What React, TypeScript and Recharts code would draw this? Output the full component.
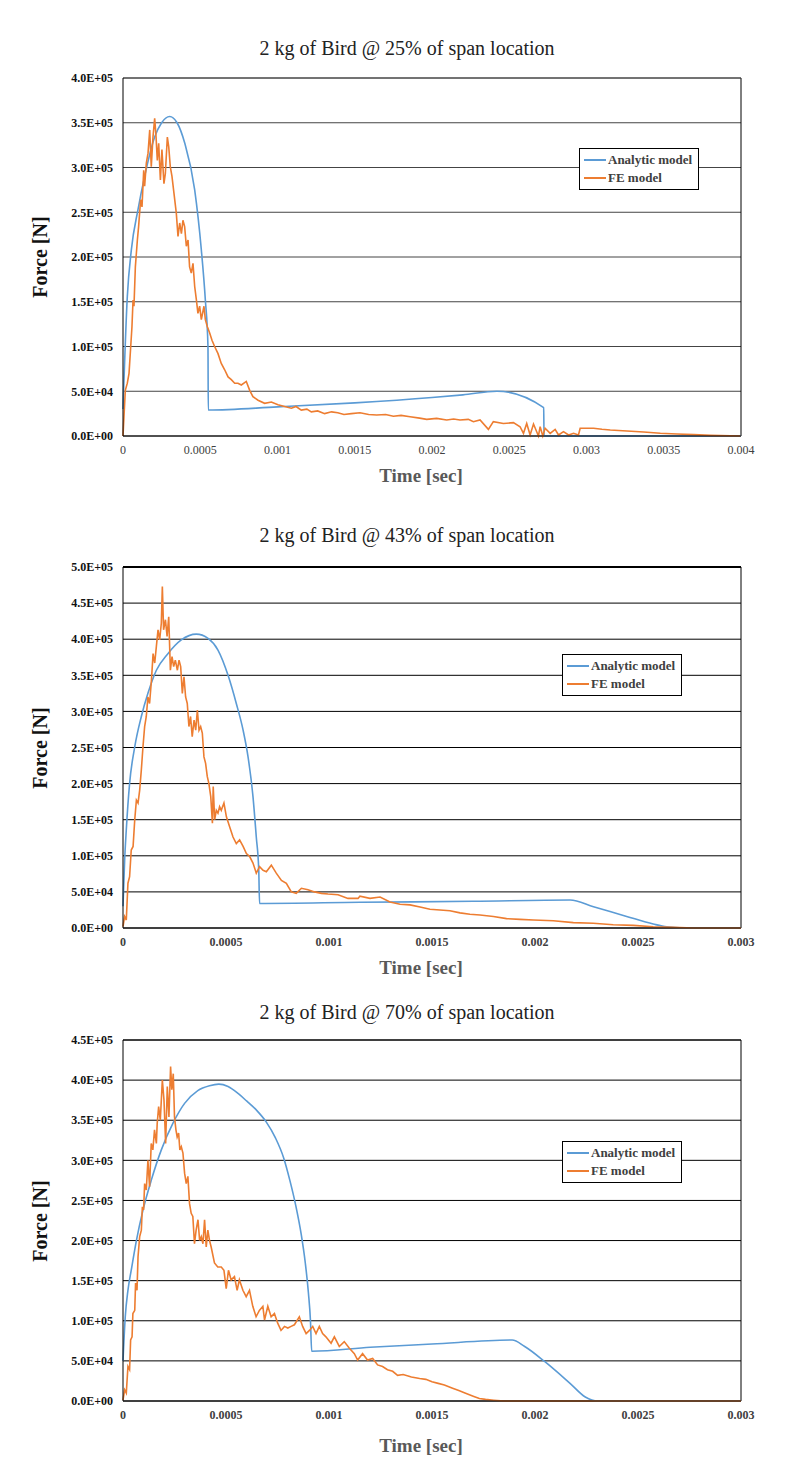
import React from 'react';
import { LineChart, Line, XAxis, YAxis, CartesianGrid, Legend, ReferenceLine } from 'recharts';

// [time in ms, force in 1e5 N]
type Pt = [number, number];

const an25: Pt[] = [
  [0, 0.3], [0.028, 1.56], [0.054, 2.08], [0.097, 2.53], [0.14, 2.9], [0.205, 3.34], [0.25, 3.5],
  [0.302, 3.57], [0.35, 3.5], [0.4, 3.27], [0.464, 2.75], [0.507, 2.08], [0.533, 1.52], [0.55, 1.0],
  [0.552, 0.29], [1.0, 0.325], [1.5, 0.37], [2.0, 0.43], [2.2, 0.46], [2.42, 0.5], [2.723, 0.316],
  [2.725, 0], [4.0, 0],
];

const fe25: Pt[] = [
  [0, 0], [0.015, 0.51], [0.028, 0.59], [0.039, 0.7], [0.05, 1.0], [0.058, 1.22], [0.065, 1.52],
  [0.071, 1.45], [0.08, 1.89], [0.093, 2.19], [0.101, 2.34], [0.114, 2.64], [0.123, 2.56],
  [0.134, 2.97], [0.14, 2.79], [0.151, 3.05], [0.162, 3.16], [0.173, 3.42], [0.183, 3.01],
  [0.194, 3.34], [0.205, 3.55], [0.214, 3.34], [0.222, 3.08], [0.231, 3.27], [0.242, 2.86],
  [0.252, 3.2], [0.265, 2.82], [0.274, 2.93], [0.287, 3.34], [0.296, 3.23], [0.306, 3.01],
  [0.317, 2.9], [0.33, 2.71], [0.345, 2.49], [0.356, 2.23], [0.367, 2.38], [0.378, 2.26],
  [0.388, 2.41], [0.399, 2.34], [0.41, 2.12], [0.421, 2.19], [0.431, 1.89], [0.442, 1.82],
  [0.453, 1.93], [0.464, 1.67], [0.475, 1.52], [0.485, 1.37], [0.496, 1.45], [0.507, 1.3],
  [0.524, 1.45], [0.533, 1.3], [0.546, 1.22], [0.561, 1.15], [0.576, 1.07], [0.593, 1.0],
  [0.615, 0.92], [0.636, 0.81], [0.658, 0.74], [0.68, 0.66], [0.701, 0.63], [0.723, 0.59],
  [0.744, 0.59], [0.766, 0.57], [0.798, 0.61], [0.82, 0.51], [0.841, 0.44], [0.874, 0.4],
  [0.917, 0.365], [0.96, 0.38], [1.003, 0.35], [1.046, 0.33], [1.09, 0.31], [1.12, 0.33],
  [1.154, 0.29], [1.19, 0.3], [1.219, 0.27], [1.26, 0.28], [1.305, 0.25], [1.35, 0.27],
  [1.39, 0.26], [1.43, 0.24], [1.478, 0.25], [1.534, 0.26], [1.59, 0.24], [1.642, 0.235],
  [1.7, 0.24], [1.75, 0.22], [1.8, 0.23], [1.858, 0.216], [1.92, 0.2], [1.966, 0.186],
  [2.03, 0.197], [2.095, 0.179], [2.14, 0.19], [2.181, 0.179], [2.235, 0.186], [2.268, 0.16],
  [2.311, 0.179], [2.365, 0.074], [2.397, 0.16], [2.462, 0.14], [2.527, 0.149], [2.57, 0.104],
  [2.592, 0.03], [2.613, 0.14], [2.635, 0.011], [2.657, 0.134], [2.689, 0], [2.7, 0.104],
  [2.717, 0], [2.732, 0.086], [2.765, 0.03], [2.797, 0.074], [2.819, 0.011], [2.851, 0.048],
  [2.884, 0.011], [2.916, 0.03], [2.948, 0.011], [2.959, 0.086], [3.046, 0.086], [3.1, 0.075],
  [3.154, 0.067], [3.262, 0.056], [3.37, 0.045], [3.478, 0.03], [3.586, 0.022], [3.694, 0.015],
  [3.802, 0.007], [3.996, 0],
];

const an43: Pt[] = [
  [0, 0.3], [0.008, 0.94], [0.016, 1.36], [0.032, 2.0], [0.057, 2.51], [0.089, 2.93], [0.121, 3.25],
  [0.162, 3.57], [0.218, 3.8], [0.283, 3.99], [0.356, 4.07], [0.413, 4.01], [0.461, 3.85],
  [0.51, 3.5], [0.55, 3.11], [0.583, 2.74], [0.607, 2.37], [0.631, 1.82], [0.647, 1.26],
  [0.659, 0.8], [0.663, 0.34], [1.15, 0.356], [1.7, 0.37], [2.17, 0.388], [2.284, 0.295],
  [2.445, 0.16], [2.574, 0.055], [2.64, 0.015], [2.72, 0], [3.0, 0],
];

const fe43: Pt[] = [
  [0, 0.02], [0.008, 0.16], [0.016, 0.11], [0.024, 0.62], [0.032, 0.71], [0.04, 1.08], [0.049, 1.13],
  [0.057, 1.5], [0.065, 1.77], [0.073, 1.73], [0.081, 1.91], [0.089, 2.19], [0.097, 2.51],
  [0.105, 2.79], [0.113, 2.93], [0.121, 3.2], [0.129, 3.11], [0.138, 3.43], [0.146, 3.8],
  [0.154, 3.67], [0.162, 3.9], [0.17, 4.13], [0.178, 3.99], [0.186, 4.22], [0.191, 4.73],
  [0.197, 4.13], [0.206, 4.27], [0.214, 4.04], [0.222, 4.31], [0.23, 3.57], [0.238, 3.76],
  [0.246, 3.62], [0.254, 3.71], [0.264, 3.57], [0.272, 3.71], [0.28, 3.62], [0.288, 3.25],
  [0.296, 3.48], [0.304, 3.2], [0.312, 3.11], [0.32, 2.79], [0.328, 2.93], [0.336, 2.65],
  [0.345, 2.88], [0.353, 2.74], [0.361, 3.02], [0.369, 2.74], [0.377, 2.79], [0.385, 2.7],
  [0.393, 2.37], [0.401, 2.28], [0.409, 2.1], [0.417, 2.0], [0.426, 1.82], [0.434, 1.45],
  [0.438, 1.96], [0.445, 1.5], [0.453, 1.63], [0.461, 1.59], [0.469, 1.68], [0.477, 1.63],
  [0.49, 1.73], [0.502, 1.54], [0.518, 1.4], [0.534, 1.26], [0.55, 1.17], [0.566, 1.22],
  [0.583, 1.13], [0.599, 1.03], [0.615, 0.99], [0.631, 0.9], [0.647, 0.76], [0.663, 0.85],
  [0.68, 0.8], [0.696, 0.78], [0.72, 0.87], [0.744, 0.76], [0.769, 0.66], [0.793, 0.62],
  [0.817, 0.5], [0.841, 0.48], [0.866, 0.55], [0.898, 0.53], [0.93, 0.5], [0.963, 0.48],
  [0.995, 0.47], [1.044, 0.46], [1.092, 0.41], [1.141, 0.41], [1.15, 0.44], [1.199, 0.41],
  [1.248, 0.43], [1.296, 0.36], [1.345, 0.33], [1.393, 0.32], [1.442, 0.29], [1.49, 0.26],
  [1.539, 0.25], [1.587, 0.24], [1.636, 0.21], [1.684, 0.19], [1.733, 0.18], [1.798, 0.16],
  [1.862, 0.13], [1.927, 0.12], [1.992, 0.11], [2.089, 0.1], [2.186, 0.074], [2.283, 0.065],
  [2.38, 0.046], [2.477, 0.037], [2.574, 0.018], [2.671, 0.009], [2.768, 0], [3.0, 0],
];

const an70: Pt[] = [
  [0, 0.5], [0.011, 1.05], [0.024, 1.38], [0.04, 1.63], [0.065, 2.0], [0.097, 2.38], [0.137, 2.75],
  [0.186, 3.13], [0.242, 3.46], [0.299, 3.71], [0.363, 3.87], [0.42, 3.93], [0.465, 3.95],
  [0.51, 3.92], [0.56, 3.83], [0.6, 3.74], [0.65, 3.62], [0.695, 3.48], [0.74, 3.28], [0.78, 3.03],
  [0.81, 2.75], [0.84, 2.42], [0.865, 2.08], [0.885, 1.72], [0.9, 1.35], [0.91, 1.0],
  [0.916, 0.62], [1.2, 0.67], [1.5, 0.71], [1.889, 0.76], [1.95, 0.68], [2.048, 0.49],
  [2.17, 0.22], [2.244, 0.05], [2.305, 0], [3.0, 0],
];

const fe70: Pt[] = [
  [0, 0.01], [0.008, 0.14], [0.016, 0.1], [0.024, 0.43], [0.032, 0.39], [0.037, 0.76], [0.044, 0.8],
  [0.048, 1.09], [0.057, 1.13], [0.061, 1.47], [0.068, 1.38], [0.073, 1.8], [0.081, 2.05],
  [0.089, 2.13], [0.094, 2.42], [0.1, 2.38], [0.105, 2.71], [0.113, 2.63], [0.121, 3.0],
  [0.129, 2.67], [0.137, 3.21], [0.145, 3.13], [0.153, 3.38], [0.162, 3.21], [0.166, 3.46],
  [0.173, 3.67], [0.181, 3.5], [0.191, 4.0], [0.199, 3.75], [0.207, 3.21], [0.215, 3.92],
  [0.223, 3.54], [0.231, 4.17], [0.237, 3.88], [0.244, 4.08], [0.25, 3.54], [0.257, 3.38],
  [0.263, 3.29], [0.27, 3.34], [0.276, 3.13], [0.283, 3.17], [0.291, 3.09], [0.299, 2.84],
  [0.307, 2.71], [0.315, 2.8], [0.323, 2.46], [0.331, 2.34], [0.339, 2.3], [0.347, 1.96],
  [0.355, 2.13], [0.364, 2.26], [0.372, 2.0], [0.38, 2.05], [0.388, 1.96], [0.396, 2.26],
  [0.404, 1.92], [0.412, 2.13], [0.42, 2.0], [0.428, 1.92], [0.444, 1.72], [0.46, 1.67],
  [0.477, 1.67], [0.49, 1.63], [0.501, 1.4], [0.512, 1.63], [0.525, 1.51], [0.541, 1.55],
  [0.554, 1.38], [0.565, 1.51], [0.582, 1.38], [0.598, 1.3], [0.614, 1.38], [0.63, 1.18],
  [0.646, 1.05], [0.662, 1.13], [0.679, 1.18], [0.687, 1.01], [0.703, 1.18], [0.719, 1.05],
  [0.735, 1.09], [0.751, 0.97], [0.767, 0.88], [0.784, 0.93], [0.8, 0.91], [0.816, 0.93],
  [0.832, 0.95], [0.856, 1.05], [0.872, 0.93], [0.889, 0.84], [0.905, 0.88], [0.921, 0.93],
  [0.937, 0.84], [0.953, 0.93], [0.969, 0.84], [0.985, 0.8], [1.01, 0.72], [1.026, 0.8],
  [1.05, 0.68], [1.074, 0.74], [1.098, 0.66], [1.123, 0.59], [1.139, 0.51], [1.163, 0.59],
  [1.187, 0.51], [1.212, 0.53], [1.236, 0.45], [1.26, 0.43], [1.284, 0.39], [1.309, 0.37],
  [1.333, 0.32], [1.36, 0.33], [1.4, 0.3], [1.44, 0.28], [1.47, 0.27], [1.5, 0.24], [1.53, 0.22],
  [1.56, 0.2], [1.6, 0.16], [1.63, 0.13], [1.66, 0.1], [1.7, 0.06], [1.73, 0.03], [1.76, 0.02],
  [1.8, 0.01], [1.85, 0], [3.0, 0],
];

const xTicks4 = [0, 0.0005, 0.001, 0.0015, 0.002, 0.0025, 0.003, 0.0035, 0.004];
const xTicks3 = [0, 0.0005, 0.001, 0.0015, 0.002, 0.0025, 0.003];
const yTicks40 = [0, 50000, 100000, 150000, 200000, 250000, 300000, 350000, 400000];
const yTicks50 = [0, 50000, 100000, 150000, 200000, 250000, 300000, 350000, 400000, 450000, 500000];
const yTicks45 = [0, 50000, 100000, 150000, 200000, 250000, 300000, 350000, 400000, 450000];

const BLUE = '#5B9BD5';
const ORANGE = '#ED7D31';
const SERIF = '"Liberation Serif", "Times New Roman", serif';
const X_AXIS_H = 30;

const toRows = (pts: Pt[]) => pts.map(([t, f]) => ({ t: t / 1000, f: f * 1e5 }));

function sci(v: number) {
  if (v === 0) return '0.0E+00';
  const e = Math.floor(Math.log10(v) + 1e-9);
  const m = v / Math.pow(10, e);
  return `${m.toFixed(1)}E+${String(e).padStart(2, '0')}`;
}

const LegendBox = (props: any) => {
  const payload = props.payload || [];
  return (
    <div
      style={{
        border: '1px solid #000',
        background: '#fff',
        width: 120,
        height: 42,
        boxSizing: 'border-box',
        padding: '2px 0 0 4px',
        fontFamily: SERIF,
        fontWeight: 'bold',
        fontSize: 13,
        color: '#404040',
      }}
    >
      {payload.map((p: any) => (
        <div key={p.value} style={{ display: 'flex', alignItems: 'center', height: 18 }}>
          <span style={{ width: 22, height: 0, borderTop: `2px solid ${p.color}`, marginRight: 2 }} />
          {p.value}
        </div>
      ))}
    </div>
  );
};

interface PanelProps {
  top: number;
  height: number;
  plotTop: number;
  plotBottom: number;
  title: string;
  titleY: number;
  xLabelY: number;
  an: Pt[];
  fe: Pt[];
  xMax: number;
  xTicks: number[];
  yMax: number;
  yTicks: number[];
  legendX: number;
  legendY: number;
  boldX: boolean;
  gridColor: string;
  topWidth: number;
}

function Panel(p: PanelProps) {
  const mid = (p.plotTop + p.plotBottom) / 2;
  return (
    <div style={{ position: 'absolute', left: 0, top: p.top, width: 794, height: p.height }}>
      <div
        style={{
          position: 'absolute', left: 0, width: 814, top: p.titleY - p.top - 12, height: 24,
          lineHeight: '24px', textAlign: 'center', fontFamily: SERIF, fontSize: 20, color: '#222',
        }}
      >
        {p.title}
      </div>
      <div
        style={{
          position: 'absolute', left: 40, top: mid - p.top, transform: 'translate(-50%, -50%) rotate(-90deg)',
          whiteSpace: 'nowrap', fontFamily: SERIF, fontWeight: 'bold', fontSize: 20, color: '#111',
        }}
      >
        Force [N]
      </div>
      <div
        style={{
          position: 'absolute', left: 421, top: p.xLabelY - p.top, transform: 'translate(-50%, -50%)',
          whiteSpace: 'nowrap', fontFamily: SERIF, fontWeight: 'bold', fontSize: 19, color: '#595959',
        }}
      >
        Time [sec]
      </div>
      <LineChart
        width={794}
        height={p.height}
        margin={{
          top: p.plotTop - p.top,
          right: 53,
          bottom: p.top + p.height - p.plotBottom - X_AXIS_H,
          left: 43,
        }}
      >
        <CartesianGrid vertical={false} stroke={p.gridColor} />
        <XAxis
          dataKey="t"
          type="number"
          height={X_AXIS_H}
          domain={[0, p.xMax]}
          ticks={p.xTicks}
          tickFormatter={(v: number) => String(v)}
          tickLine={false}
          tickMargin={3}
          axisLine={{ stroke: '#000' }}
          tick={{ fontFamily: SERIF, fontSize: 12, fontWeight: p.boldX ? 'bold' : 'normal', fill: '#404040' }}
        />
        <YAxis
          type="number"
          width={80}
          domain={[0, p.yMax]}
          ticks={p.yTicks}
          tickFormatter={sci}
          tickLine={false}
          tickMargin={4}
          axisLine={{ stroke: '#000' }}
          tick={{ fontFamily: SERIF, fontSize: 12, fontWeight: 'bold', fill: '#111' }}
        />
        <ReferenceLine x={p.xMax} stroke="#000" />
        <ReferenceLine y={p.yMax} stroke={p.gridColor} strokeWidth={p.topWidth} />
        <Line
          data={toRows(p.an)}
          dataKey="f"
          name="Analytic model"
          type="monotone"
          stroke={BLUE}
          strokeWidth={1.6}
          dot={false}
          isAnimationActive={false}
        />
        <Line
          data={toRows(p.fe)}
          dataKey="f"
          name="FE model"
          stroke={ORANGE}
          strokeWidth={1.6}
          dot={false}
          isAnimationActive={false}
        />
        <Legend
          layout="horizontal"
          verticalAlign="middle"
          align="center"
          content={<LegendBox />}
          wrapperStyle={{ left: p.legendX, top: p.legendY - p.top, width: 120, height: 42 }}
        />
      </LineChart>
    </div>
  );
}

export default function App() {
  return (
    <div style={{ position: 'absolute', left: 0, top: 0, width: 794, height: 1466, background: '#fff' }}>
      <Panel
        top={30} height={470} plotTop={78} plotBottom={436}
        title="2 kg of Bird @ 25% of span location" titleY={48} xLabelY={476}
        an={an25} fe={fe25} xMax={0.004} xTicks={xTicks4} yMax={400000} yTicks={yTicks40}
        legendX={579} legendY={148} boldX={false} gridColor="#444" topWidth={1}
      />
      <Panel
        top={515} height={475} plotTop={567} plotBottom={928}
        title="2 kg of Bird @ 43% of span location" titleY={535} xLabelY={968}
        an={an43} fe={fe43} xMax={0.003} xTicks={xTicks3} yMax={500000} yTicks={yTicks50}
        legendX={562} legendY={654} boldX={true} gridColor="#000" topWidth={2}
      />
      <Panel
        top={995} height={471} plotTop={1040} plotBottom={1401}
        title="2 kg of Bird @ 70% of span location" titleY={1012} xLabelY={1446}
        an={an70} fe={fe70} xMax={0.003} xTicks={xTicks3} yMax={450000} yTicks={yTicks45}
        legendX={562} legendY={1141} boldX={true} gridColor="#000" topWidth={1}
      />
    </div>
  );
}
